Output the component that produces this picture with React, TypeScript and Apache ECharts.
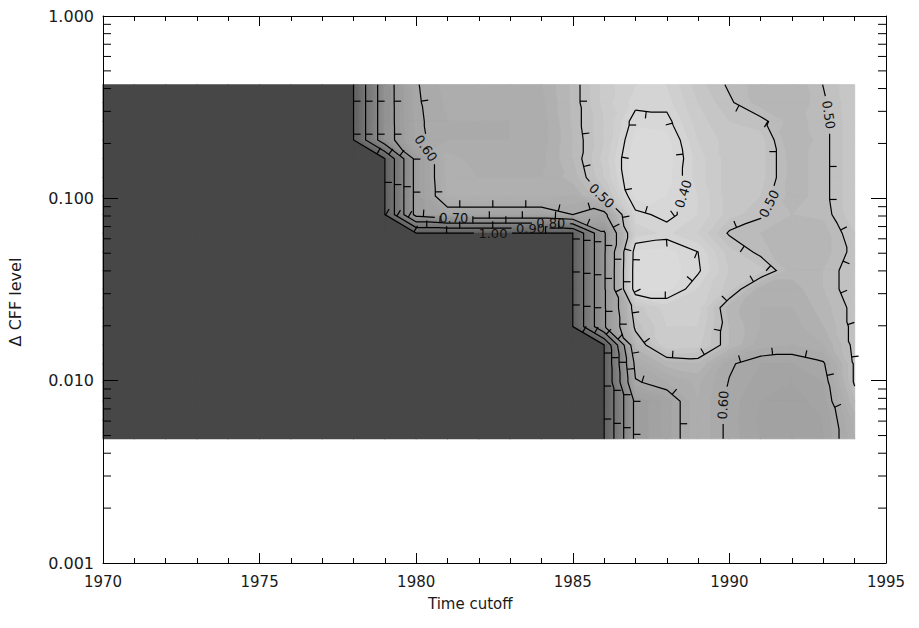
import React, { useEffect, useRef } from "react";
import * as echarts from "echarts";

// ---------------- data ----------------
const years = [1970, 1971, 1972, 1973, 1974, 1975, 1976, 1977, 1978, 1979, 1980, 1981, 1982, 1983, 1984, 1985, 1986, 1987, 1988, 1989, 1990, 1991, 1992, 1993, 1994];

// ΔCFF levels of the grid rows, top to bottom
const cffLevels = [0.42, 0.335, 0.264, 0.209, 0.165, 0.13, 0.103, 0.0814, 0.0644, 0.0508, 0.0402, 0.0318, 0.0251, 0.0198, 0.0157, 0.0124, 0.0098, 0.0077, 0.0061, 0.0048];

// value rows (one per ΔCFF level), columns = years
const row00 = [1, 1, 1, 1, 1, 1, 1, 1, 1, 0.74, 0.603, 0.57, 0.57, 0.57, 0.56, 0.515, 0.45, 0.42, 0.42, 0.47, 0.505, 0.53, 0.54, 0.499, 0.46];
const row01 = [1, 1, 1, 1, 1, 1, 1, 1, 1, 0.74, 0.605, 0.575, 0.575, 0.575, 0.565, 0.515, 0.45, 0.41, 0.41, 0.46, 0.495, 0.53, 0.54, 0.505, 0.46];
const row02 = [1, 1, 1, 1, 1, 1, 1, 1, 1, 0.74, 0.607, 0.58, 0.58, 0.58, 0.57, 0.515, 0.46, 0.385, 0.39, 0.45, 0.48, 0.49, 0.53, 0.51, 0.46];
const row03 = [1, 1, 1, 1, 1, 1, 1, 1, 1, 0.74, 0.61, 0.58, 0.58, 0.58, 0.57, 0.52, 0.46, 0.37, 0.37, 0.44, 0.47, 0.47, 0.54, 0.51, 0.46];
const row04 = [1, 1, 1, 1, 1, 1, 1, 1, 1, 1, 0.67, 0.55, 0.57, 0.57, 0.565, 0.52, 0.45, 0.36, 0.365, 0.43, 0.47, 0.47, 0.53, 0.51, 0.46];
const row05 = [1, 1, 1, 1, 1, 1, 1, 1, 1, 1, 0.67, 0.55, 0.56, 0.56, 0.56, 0.53, 0.46, 0.36, 0.37, 0.43, 0.47, 0.47, 0.53, 0.51, 0.46];
const row06 = [1, 1, 1, 1, 1, 1, 1, 1, 1, 1, 0.67, 0.555, 0.555, 0.555, 0.555, 0.56, 0.495, 0.37, 0.38, 0.42, 0.47, 0.48, 0.53, 0.51, 0.46];
const row07 = [1, 1, 1, 1, 1, 1, 1, 1, 1, 1, 0.67, 0.63, 0.63, 0.63, 0.63, 0.6, 0.62, 0.41, 0.39, 0.42, 0.47, 0.495, 0.52, 0.515, 0.46];
const row08 = [1, 1, 1, 1, 1, 1, 1, 1, 1, 1, 1, 1, 1, 1, 1, 1, 0.71, 0.43, 0.415, 0.44, 0.505, 0.52, 0.54, 0.53, 0.48];
const row09 = [1, 1, 1, 1, 1, 1, 1, 1, 1, 1, 1, 1, 1, 1, 1, 1, 0.71, 0.375, 0.37, 0.4, 0.47, 0.51, 0.54, 0.53, 0.49];
const row10 = [1, 1, 1, 1, 1, 1, 1, 1, 1, 1, 1, 1, 1, 1, 1, 1, 0.71, 0.37, 0.365, 0.395, 0.46, 0.47, 0.53, 0.52, 0.48];
const row11 = [1, 1, 1, 1, 1, 1, 1, 1, 1, 1, 1, 1, 1, 1, 1, 1, 0.71, 0.37, 0.37, 0.42, 0.47, 0.55, 0.55, 0.52, 0.48];
const row12 = [1, 1, 1, 1, 1, 1, 1, 1, 1, 1, 1, 1, 1, 1, 1, 1, 0.71, 0.47, 0.43, 0.43, 0.53, 0.56, 0.56, 0.53, 0.49];
const row13 = [1, 1, 1, 1, 1, 1, 1, 1, 1, 1, 1, 1, 1, 1, 1, 1, 0.71, 0.49, 0.44, 0.44, 0.52, 0.56, 0.57, 0.54, 0.49];
const row14 = [1, 1, 1, 1, 1, 1, 1, 1, 1, 1, 1, 1, 1, 1, 1, 1, 1, 0.53, 0.44, 0.45, 0.52, 0.57, 0.58, 0.56, 0.49];
const row15 = [1, 1, 1, 1, 1, 1, 1, 1, 1, 1, 1, 1, 1, 1, 1, 1, 1, 0.58, 0.53, 0.52, 0.595, 0.62, 0.62, 0.605, 0.495];
const row16 = [1, 1, 1, 1, 1, 1, 1, 1, 1, 1, 1, 1, 1, 1, 1, 1, 1, 0.605, 0.58, 0.555, 0.602, 0.63, 0.64, 0.62, 0.495];
const row17 = [1, 1, 1, 1, 1, 1, 1, 1, 1, 1, 1, 1, 1, 1, 1, 1, 1, 0.68, 0.63, 0.56, 0.61, 0.64, 0.65, 0.63, 0.52];
const row18 = [1, 1, 1, 1, 1, 1, 1, 1, 1, 1, 1, 1, 1, 1, 1, 1, 1, 0.68, 0.63, 0.56, 0.61, 0.645, 0.66, 0.64, 0.55];
const row19 = [1, 1, 1, 1, 1, 1, 1, 1, 1, 1, 1, 1, 1, 1, 1, 1, 1, 0.68, 0.63, 0.56, 0.61, 0.64, 0.65, 0.64, 0.56];

const valueRows = [row00, row01, row02, row03, row04, row05, row06, row07, row08, row09, row10, row11, row12, row13, row14, row15, row16, row17, row18, row19];

const contourLevels = [0.4, 0.5, 0.6, 0.7, 0.8, 0.9, 1.0];
const xTickYears = [1970, 1975, 1980, 1985, 1990, 1995];
const yDecades = [0.001, 0.01, 0.1, 1];
const yMinorTicks = [0.002, 0.003, 0.004, 0.005, 0.006, 0.007, 0.008, 0.009, 0.02, 0.03, 0.04, 0.05, 0.06, 0.07, 0.08, 0.09, 0.2, 0.3, 0.4, 0.5, 0.6, 0.7, 0.8, 0.9];

// where contour labels sit (level, year, ΔCFF)
const labelSpots = [
  { level: 0.6, year: 1980.24, value: 0.184 },
  { level: 0.5, year: 1985.9, value: 0.1 },
  { level: 0.4, year: 1988.4, value: 0.108 },
  { level: 0.5, year: 1991.34, value: 0.092 },
  { level: 0.5, year: 1993.1, value: 0.286 },
  { level: 0.6, year: 1989.74, value: 0.00735 },
  { level: 0.7, year: 1981.2, value: 0.082 },
  { level: 1.0, year: 1982.45, value: 0.064 },
  { level: 0.9, year: 1983.65, value: 0.068 },
  { level: 0.8, year: 1984.3, value: 0.074 },
];

// ---------------- style ----------------
const FONT = '"DejaVu Sans", "Liberation Sans", sans-serif';
const DARK = "#474747";
const shadeStops: number[][] = [
  [0.3, 0xe0], [0.35, 0xdc], [0.4, 0xd6], [0.45, 0xcb], [0.5, 0xbe], [0.55, 0xb0],
  [0.6, 0xa8], [0.65, 0xa2], [0.7, 0x98], [0.8, 0x86], [0.9, 0x74], [1.0, 0x62],
];
const fillStep = 0.02;
const tickSpacing = 33;
const tickLen = 7;
const labelHalf = 19;

// ---------------- helpers ----------------
const nCols = years.length;
const nRows = cffLevels.length;
const logLevels = cffLevels.map((v) => Math.log10(v));

function idxToData(c: number, r: number): number[] {
  const c0 = Math.max(0, Math.min(Math.floor(c), nCols - 2));
  const tc = c - c0;
  const x = years[c0] + tc * (years[c0 + 1] - years[c0]);
  const r0 = Math.max(0, Math.min(Math.floor(r), nRows - 2));
  const tr = r - r0;
  const ly = logLevels[r0] + tr * (logLevels[r0 + 1] - logLevels[r0]);
  return [x, Math.pow(10, ly)];
}

type V3 = { x: number; y: number; v: number };

function cellTriangles(c: number, r: number): V3[][] {
  const TL = { x: c, y: r, v: valueRows[r][c] };
  const TR = { x: c + 1, y: r, v: valueRows[r][c + 1] };
  const BL = { x: c, y: r + 1, v: valueRows[r + 1][c] };
  const BR = { x: c + 1, y: r + 1, v: valueRows[r + 1][c + 1] };
  if (Math.abs(TL.v - BR.v) <= Math.abs(TR.v - BL.v)) return [[TL, TR, BR], [TL, BR, BL]];
  return [[TL, TR, BL], [TR, BR, BL]];
}

function clipPoly(poly: V3[], level: number, keepAbove: boolean): V3[] {
  const out: V3[] = [];
  const n = poly.length;
  for (let i = 0; i < n; i++) {
    const a = poly[i];
    const b = poly[(i + 1) % n];
    const ia = keepAbove ? a.v >= level : a.v < level;
    const ib = keepAbove ? b.v >= level : b.v < level;
    if (ia) out.push(a);
    if (ia !== ib) {
      const t = (level - a.v) / (b.v - a.v);
      out.push({ x: a.x + t * (b.x - a.x), y: a.y + t * (b.y - a.y), v: level });
    }
  }
  return out;
}

function shade(v: number): string {
  if (v >= 1) return DARK;
  let g = shadeStops[0][1];
  if (v >= shadeStops[shadeStops.length - 1][0]) g = shadeStops[shadeStops.length - 1][1];
  else {
    for (let i = 0; i < shadeStops.length - 1; i++) {
      const [v0, g0] = shadeStops[i];
      const [v1, g1] = shadeStops[i + 1];
      if (v >= v0 && v <= v1) {
        g = g0 + ((v - v0) / (v1 - v0)) * (g1 - g0);
        break;
      }
    }
  }
  const h = Math.round(g).toString(16).padStart(2, "0");
  return "#" + h + h + h;
}

// band edges for the filled shading
const bandEdges: number[] = [];
for (let k = 15; k <= 50; k++) bandEdges.push(k * fillStep);
const bands: number[][] = [[-Infinity, bandEdges[0]]];
for (let i = 0; i < bandEdges.length - 1; i++) bands.push([bandEdges[i], bandEdges[i + 1]]);
bands.push([bandEdges[bandEdges.length - 1], Infinity]);

function polyArea(p: V3[]): number {
  let a = 0;
  for (let i = 0; i < p.length; i++) {
    const q = p[(i + 1) % p.length];
    a += p[i].x * q.y - q.x * p[i].y;
  }
  return Math.abs(a) / 2;
}

// contour segments, oriented with higher values on one consistent side
function triSegment(t: V3[], L: number) {
  const pts: number[][] = [];
  for (let i = 0; i < 3; i++) {
    const a = t[i];
    const b = t[(i + 1) % 3];
    const ia = a.v >= L;
    const ib = b.v >= L;
    if (ia !== ib) {
      const k = (L - a.v) / (b.v - a.v);
      pts.push([a.x + k * (b.x - a.x), a.y + k * (b.y - a.y)]);
    }
  }
  if (pts.length !== 2) return null;
  let p = pts[0];
  let q = pts[1];
  if (Math.hypot(q[0] - p[0], q[1] - p[1]) < 1e-9) return null;
  const e1x = t[1].x - t[0].x, e1y = t[1].y - t[0].y;
  const e2x = t[2].x - t[0].x, e2y = t[2].y - t[0].y;
  const d1 = t[1].v - t[0].v, d2 = t[2].v - t[0].v;
  const det = e1x * e2y - e1y * e2x;
  const gx = (d1 * e2y - e1y * d2) / det;
  const gy = (e1x * d2 - d1 * e2x) / det;
  const dx = q[0] - p[0], dy = q[1] - p[1];
  if (dx * gy - dy * gx < 0) {
    const tmp = p;
    p = q;
    q = tmp;
  }
  return { a: p, b: q };
}

const keyOf = (p: number[]) => p[0].toFixed(6) + "," + p[1].toFixed(6);

const contourLines: { level: number; pts: number[][] }[] = [];
for (const L of contourLevels) {
  const segs: { a: number[]; b: number[] }[] = [];
  for (let r = 0; r < nRows - 1; r++) {
    for (let c = 0; c < nCols - 1; c++) {
      for (const tri of cellTriangles(c, r)) {
        const s = triSegment(tri, L);
        if (s) segs.push(s);
      }
    }
  }
  const startMap = new Map<string, number[]>();
  const endMap = new Map<string, number[]>();
  segs.forEach((s, i) => {
    const ka = keyOf(s.a), kb = keyOf(s.b);
    if (!startMap.has(ka)) startMap.set(ka, []);
    startMap.get(ka)!.push(i);
    if (!endMap.has(kb)) endMap.set(kb, []);
    endMap.get(kb)!.push(i);
  });
  const used = segs.map(() => false);
  for (let i = 0; i < segs.length; i++) {
    if (used[i]) continue;
    used[i] = true;
    const chain = [segs[i].a, segs[i].b];
    let key = keyOf(segs[i].b);
    for (;;) {
      const cand = (startMap.get(key) || []).find((j) => !used[j]);
      if (cand === undefined) break;
      used[cand] = true;
      chain.push(segs[cand].b);
      key = keyOf(segs[cand].b);
    }
    key = keyOf(segs[i].a);
    for (;;) {
      const cand = (endMap.get(key) || []).find((j) => !used[j]);
      if (cand === undefined) break;
      used[cand] = true;
      chain.unshift(segs[cand].a);
      key = keyOf(segs[cand].a);
    }
    contourLines.push({ level: L, pts: chain });
  }
}

type Ln = { level: number; pts: number[][]; cum: number[]; total: number };

function segIndexAt(ln: Ln, s: number): number {
  for (let i = 0; i < ln.pts.length - 1; i++) {
    if (s <= ln.cum[i + 1] && ln.cum[i + 1] > ln.cum[i]) return i;
  }
  return ln.pts.length - 2;
}
function pointAt(ln: Ln, s: number): number[] {
  const ss = Math.max(0, Math.min(ln.total, s));
  const i = segIndexAt(ln, ss);
  const l = ln.cum[i + 1] - ln.cum[i];
  const t = l > 0 ? (ss - ln.cum[i]) / l : 0;
  const p = ln.pts[i], q = ln.pts[i + 1];
  return [p[0] + t * (q[0] - p[0]), p[1] + t * (q[1] - p[1])];
}
function dirAt(ln: Ln, s: number): number[] | null {
  const i = segIndexAt(ln, Math.max(0, Math.min(ln.total, s)));
  const p = ln.pts[i], q = ln.pts[i + 1];
  const l = Math.hypot(q[0] - p[0], q[1] - p[1]);
  if (!(l > 0)) return null;
  return [(q[0] - p[0]) / l, (q[1] - p[1]) / l];
}
function slicePts(ln: Ln, s0: number, s1: number): number[][] {
  const out = [pointAt(ln, s0)];
  for (let i = 0; i < ln.pts.length; i++) {
    if (ln.cum[i] > s0 && ln.cum[i] < s1) out.push(ln.pts[i]);
  }
  out.push(pointAt(ln, s1));
  return out;
}
function visibleIntervals(total: number, gaps: number[][]): number[][] {
  const g = gaps.slice().sort((a, b) => a[0] - b[0]);
  const out: number[][] = [];
  let cur = 0;
  for (const [a, b] of g) {
    if (a > cur) out.push([cur, Math.min(a, total)]);
    cur = Math.max(cur, b);
  }
  if (cur < total) out.push([cur, total]);
  return out.filter((iv) => iv[1] - iv[0] > 0.01);
}

// ---------------- render functions ----------------
function renderCell(params: any, api: any) {
  const c = api.value(2);
  const r = api.value(3);
  const children: any[] = [];
  const corners = [valueRows[r][c], valueRows[r][c + 1], valueRows[r + 1][c], valueRows[r + 1][c + 1]];
  if (corners.every((v) => v >= 1)) {
    // a wholly saturated cell: one quad, slightly overdrawn to hide seams
    const a = api.coord(idxToData(c, r));
    const b = api.coord(idxToData(c + 1, r + 1));
    children.push({
      type: "rect",
      shape: { x: Math.min(a[0], b[0]) - 0.5, y: Math.min(a[1], b[1]) - 0.5, width: Math.abs(b[0] - a[0]) + 1, height: Math.abs(b[1] - a[1]) + 1 },
      style: { fill: DARK },
      silent: true,
    });
    return { type: "group", children };
  }
  for (const tri of cellTriangles(c, r)) {
    const vals = tri.map((p) => p.v);
    const vmin = Math.min(...vals), vmax = Math.max(...vals);
    for (const [lo, hi] of bands) {
      if (hi <= vmin || lo > vmax) continue;
      let poly: V3[] = tri;
      if (lo !== -Infinity) poly = clipPoly(poly, lo, true);
      if (poly.length >= 3 && hi !== Infinity) poly = clipPoly(poly, hi, false);
      if (poly.length < 3 || polyArea(poly) < 1e-7) continue;
      const mid = hi === Infinity ? 1 : lo === -Infinity ? hi - fillStep / 2 : (lo + hi) / 2;
      const col = shade(mid);
      children.push({
        type: "polygon",
        shape: { points: poly.map((p) => api.coord(idxToData(p.x, p.y))) },
        style: { fill: col, stroke: col, lineWidth: 1, lineJoin: "round" },
        silent: true,
      });
    }
  }
  return { type: "group", children };
}

function renderContours(params: any, api: any) {
  const lines: Ln[] = contourLines.map((cl) => {
    const pts = cl.pts.map((p) => api.coord(idxToData(p[0], p[1])) as number[]);
    const cum = [0];
    for (let i = 1; i < pts.length; i++) cum.push(cum[i - 1] + Math.hypot(pts[i][0] - pts[i - 1][0], pts[i][1] - pts[i - 1][1]));
    return { level: cl.level, pts, cum, total: cum[cum.length - 1] };
  });
  const gaps: number[][][] = lines.map(() => []);
  const labelEls: any[] = [];
  for (const spot of labelSpots) {
    const a = api.coord([spot.year, spot.value]);
    let best: any = null;
    lines.forEach((ln, li) => {
      if (Math.abs(ln.level - spot.level) > 1e-9) return;
      for (let i = 0; i < ln.pts.length - 1; i++) {
        const p = ln.pts[i], q = ln.pts[i + 1];
        const dx = q[0] - p[0], dy = q[1] - p[1];
        const len2 = dx * dx + dy * dy;
        let t = len2 > 0 ? ((a[0] - p[0]) * dx + (a[1] - p[1]) * dy) / len2 : 0;
        t = Math.max(0, Math.min(1, t));
        const x = p[0] + t * dx, y = p[1] + t * dy;
        const d = Math.hypot(a[0] - x, a[1] - y);
        if (!best || d < best.d) best = { d, li, s: ln.cum[i] + t * Math.sqrt(len2) };
      }
    });
    if (!best) continue;
    const ln = lines[best.li];
    gaps[best.li].push([best.s - labelHalf, best.s + labelHalf]);
    const p0 = pointAt(ln, best.s - 8), p1 = pointAt(ln, best.s + 8), cpt = pointAt(ln, best.s);
    let ang = Math.atan2(p1[1] - p0[1], p1[0] - p0[0]);
    if (ang > Math.PI / 2) ang -= Math.PI;
    else if (ang <= -Math.PI / 2) ang += Math.PI;
    labelEls.push({
      type: "text",
      x: cpt[0],
      y: cpt[1],
      rotation: -ang,
      silent: true,
      style: { text: spot.level.toFixed(2), fill: "#111", fontSize: 13, fontFamily: FONT, align: "center", verticalAlign: "middle" },
    });
  }
  const children: any[] = [];
  lines.forEach((ln, li) => {
    if (ln.total <= 0) return;
    for (const [s0, s1] of visibleIntervals(ln.total, gaps[li])) {
      const pts = slicePts(ln, s0, s1);
      if (pts.length >= 2) {
        children.push({ type: "polyline", silent: true, shape: { points: pts }, style: { stroke: "#000", lineWidth: 1.2, fill: "none" } });
      }
    }
    for (let s = tickSpacing / 2; s < ln.total; s += tickSpacing) {
      if (gaps[li].some((g) => s > g[0] - 4 && s < g[1] + 4)) continue;
      const p = pointAt(ln, s);
      const d = dirAt(ln, s);
      if (!d) continue;
      const nx = d[1], ny = -d[0];
      children.push({
        type: "line",
        silent: true,
        shape: { x1: p[0], y1: p[1], x2: p[0] + nx * tickLen, y2: p[1] + ny * tickLen },
        style: { stroke: "#000", lineWidth: 1.2 },
      });
    }
  });
  return { type: "group", children: children.concat(labelEls) };
}

function renderMinorTick(params: any, api: any) {
  const v = api.value(1);
  const l = api.coord([xTickYears[0], v]);
  const r = api.coord([xTickYears[xTickYears.length - 1], v]);
  return {
    type: "group",
    children: [
      { type: "line", shape: { x1: l[0], y1: l[1], x2: l[0] + 8, y2: l[1] }, style: { stroke: "#000", lineWidth: 1 } },
      { type: "line", shape: { x1: r[0] - 8, y1: r[1], x2: r[0], y2: r[1] }, style: { stroke: "#000", lineWidth: 1 } },
    ],
  };
}

// ---------------- option ----------------
const cellData: number[][] = [];
for (let r = 0; r < nRows - 1; r++) {
  for (let c = 0; c < nCols - 1; c++) cellData.push([years[c], cffLevels[r], c, r]);
}

const axisLineStyle = { color: "#000", width: 1 };
const labelStyle = { color: "#1a1a1a", fontSize: 15, fontFamily: FONT };

const option: any = {
  animation: false,
  backgroundColor: "#fff",
  grid: { left: 103, right: 33, top: 16, bottom: 65, containLabel: false },
  xAxis: [
    {
      type: "value",
      min: xTickYears[0],
      max: xTickYears[xTickYears.length - 1],
      interval: 5,
      position: "bottom",
      z: 10,
      axisLine: { show: true, onZero: false, lineStyle: axisLineStyle },
      axisTick: { show: true, inside: true, length: 10, lineStyle: axisLineStyle },
      minorTick: { show: true, splitNumber: 5, length: 5, lineStyle: axisLineStyle },
      splitLine: { show: false },
      axisLabel: { ...labelStyle, margin: 11, formatter: (v: number) => String(Math.round(v)) },
    },
    {
      type: "value",
      min: xTickYears[0],
      max: xTickYears[xTickYears.length - 1],
      interval: 5,
      position: "top",
      z: 10,
      axisLine: { show: true, onZero: false, lineStyle: axisLineStyle },
      axisTick: { show: true, inside: true, length: 10, lineStyle: axisLineStyle },
      minorTick: { show: true, splitNumber: 5, length: 5, lineStyle: axisLineStyle },
      splitLine: { show: false },
      axisLabel: { show: false },
    },
  ],
  yAxis: [
    {
      type: "log",
      logBase: 10,
      min: yDecades[0],
      max: yDecades[yDecades.length - 1],
      position: "left",
      z: 10,
      axisLine: { show: true, onZero: false, lineStyle: axisLineStyle },
      axisTick: { show: true, inside: true, length: 15, lineStyle: axisLineStyle },
      splitLine: { show: false },
      axisLabel: { ...labelStyle, fontSize: 16, margin: 9, formatter: (v: number) => Number(v).toFixed(3) },
    },
    {
      type: "log",
      logBase: 10,
      min: yDecades[0],
      max: yDecades[yDecades.length - 1],
      position: "right",
      z: 10,
      axisLine: { show: true, onZero: false, lineStyle: axisLineStyle },
      axisTick: { show: true, inside: true, length: 15, lineStyle: axisLineStyle },
      splitLine: { show: false },
      axisLabel: { show: false },
    },
  ],
  graphic: [
    { type: "text", left: 428, top: 596, style: { text: "Time cutoff", fill: "#1a1a1a", fontSize: 15, fontFamily: FONT } },
    {
      type: "text",
      x: 15,
      y: 302,
      rotation: Math.PI / 2,
      style: { text: "Δ CFF level", fill: "#1a1a1a", fontSize: 16, fontFamily: FONT, align: "center", verticalAlign: "middle" },
    },
  ],
  series: [
    {
      type: "custom",
      name: "shading",
      xAxisIndex: 0,
      yAxisIndex: 0,
      coordinateSystem: "cartesian2d",
      data: cellData,
      encode: { x: 0, y: 1 },
      renderItem: renderCell,
      silent: true,
      z: 1,
    },
    {
      type: "custom",
      name: "contours",
      xAxisIndex: 0,
      yAxisIndex: 0,
      coordinateSystem: "cartesian2d",
      data: [[years[0], cffLevels[0]]],
      encode: { x: 0, y: 1 },
      renderItem: renderContours,
      silent: true,
      z: 3,
    },
    {
      type: "custom",
      name: "minorTicks",
      xAxisIndex: 0,
      yAxisIndex: 0,
      coordinateSystem: "cartesian2d",
      data: yMinorTicks.map((v) => [xTickYears[0], v]),
      encode: { x: 0, y: 1 },
      renderItem: renderMinorTick,
      silent: true,
      clip: false,
      z: 11,
    },
  ],
};

export default function App() {
  const ref = useRef<HTMLDivElement>(null);
  useEffect(() => {
    if (!ref.current) return;
    const chart = echarts.init(ref.current, undefined, { renderer: "svg" });
    chart.setOption(option);
    return () => chart.dispose();
  }, []);
  return <div ref={ref} style={{ position: "absolute", left: 0, top: 0, width: 919, height: 628, background: "#fff" }} />;
}
